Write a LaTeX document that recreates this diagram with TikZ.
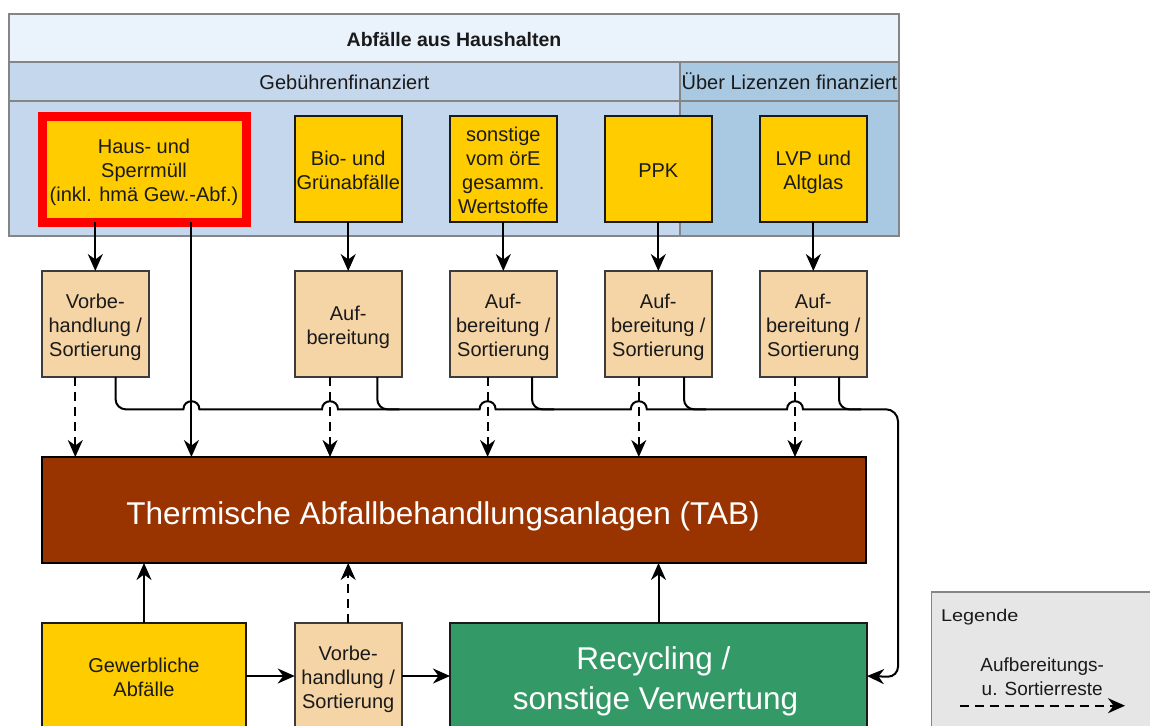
\documentclass[tikz,border=0pt]{standalone}
\usepackage{fontspec}
\setmainfont{Liberation Sans}
\usetikzlibrary{arrows.meta,calc}
\definecolor{titlebg}{HTML}{EAF2FC}
\definecolor{rowL}{HTML}{C4D7EC}
\definecolor{rowR}{HTML}{A9C8E2}
\definecolor{hdrline}{HTML}{858585}
\definecolor{yel}{HTML}{FFCC00}
\definecolor{tanbox}{HTML}{F5D4A6}
\definecolor{tabc}{HTML}{993300}
\definecolor{recc}{HTML}{339966}
\definecolor{legbg}{HTML}{E6E6E6}
\definecolor{boxline}{HTML}{1A1A1A}
\newcommand\lstrut{\rule[-4pt]{0pt}{24pt}}
\newcommand\bstrut{\rule[-6.1pt]{0pt}{37.8pt}}
% multi-line text block, lowered a little (as the reference sets it)
\newcommand\bt[2][3.3pt]{\raisebox{-#1}[\height][\depth]{\begin{tabular}{@{}c@{}}#2\end{tabular}}}
\begin{document}
\begin{tikzpicture}[x=1pt,y=-1pt,
  every node/.style={font=\fontsize{20}{24}\selectfont, inner sep=0pt, outer sep=0pt, text=boxline,
    execute at begin node=\lstrut, execute at end node=\lstrut},
  hdr/.style={draw=hdrline, line width=2pt},
  ybox/.style={draw=boxline, fill=yel, line width=1.6pt, minimum width=107pt, minimum height=106pt},
  tbox/.style={draw=boxline!85, fill=tanbox, line width=1.6pt, minimum width=107pt, minimum height=106pt},
  big/.style={font=\fontsize{31.5}{40}\selectfont, text=white,
    execute at begin node=\bstrut, execute at end node=\bstrut},
  wire/.style={line width=2pt, draw=black},
  conn/.style={wire, -{Stealth[length=17pt,width=15pt,inset=5.5pt]}},
  resid/.style={conn, dash pattern=on 9pt off 6pt},
  ]
\useasboundingbox (0,0) rectangle (1150,725);
\clip (0,0) rectangle (1150,725);

% header
\node[hdr, fill=titlebg, minimum width=890pt, minimum height=48pt, font=\fontsize{19.5}{24}\selectfont\bfseries] (title) at (454,38) {Abfälle aus Haushalten};
\node[hdr, fill=rowL, minimum width=671pt, minimum height=39pt] (geb) at (344.5,81.5) {Gebührenfinanziert};
\node[hdr, fill=rowR, minimum width=219pt, minimum height=39pt] (liz) at (789.5,81.5) {Über Lizenzen finanziert};
\node[hdr, fill=rowL, minimum width=671pt, minimum height=135pt] (gebarea) at (344.5,168.5) {};
\node[hdr, fill=rowR, minimum width=219pt, minimum height=135pt] (lizarea) at (789.5,168.5) {};

% top boxes
\node[ybox, draw=red, line width=9pt, minimum width=204pt] (haus) at (144,169) {\bt{Haus- und\\Sperrmüll\\(inkl. hmä Gew.-Abf.)}};
\node[ybox] (bio) at (348.2,169) {\bt{Bio- und\\Grünabfälle}};
\node[ybox] (sonst) at (503.3,169) {\bt{sonstige\\vom örE\\gesamm.\\Wertstoffe}};
\node[ybox] (ppk) at (658.3,169) {PPK};
\node[ybox] (lvp) at (813.3,169) {\bt{LVP und\\Altglas}};

% processing boxes
\node[tbox] (v1) at (95.3,324) {\bt{Vorbe-\\handlung /\\Sortierung}};
\node[tbox] (a2) at (348.2,324) {\bt{Auf-\\bereitung}};
\node[tbox] (a3) at (503.3,324) {\bt{Auf-\\bereitung /\\Sortierung}};
\node[tbox] (a4) at (658.3,324) {\bt{Auf-\\bereitung /\\Sortierung}};
\node[tbox] (a5) at (813.3,324) {\bt{Auf-\\bereitung /\\Sortierung}};

% TAB
\node[draw=black, fill=tabc, line width=1.8pt, minimum width=824pt, minimum height=106pt, big] (tab) at (454,510) {\raisebox{-2pt}[\height][\depth]{Thermische Abfallbehandlungsanlagen (TAB)}\rule{22pt}{0pt}};

% bottom boxes
\node[ybox, minimum width=204pt] (gew) at (144,676) {\bt{Gewerbliche\\Abfälle}};
\node[tbox] (v6) at (348.2,676) {\bt{Vorbe-\\handlung /\\Sortierung}};
\node[draw=boxline, fill=recc, line width=1.6pt, minimum width=417pt, minimum height=106pt, big] (rec) at (658.5,676) {\bt[5pt]{Recycling /\rule{10pt}{0pt}\\sonstige Verwertung\rule{6pt}{0pt}}};

% legend
\node[draw=hdrline, fill=legbg, line width=1.6pt, minimum width=240pt, minimum height=160pt, anchor=north west] (legend) at (931.5,591.7) {};
\node[anchor=west, font=\fontsize{17}{20}\selectfont\addfontfeatures{FakeStretch=1.17}] (legt) at (941,613) {Legende};
\coordinate (ls) at (959.5,705.7);
\coordinate (le) at (1125,705.7);
\draw[resid] (ls) -- (le) node[midway, above=6pt, font=\fontsize{19}{24}\selectfont] (legl) {\bt{Aufbereitungs-\\u. Sortierreste}};

% top to processing
\draw[conn] (v1.north |- haus.south) -- (v1.north);
\draw[conn] ([xshift=47.4pt]haus.south) -- ([xshift=47.4pt]haus.south |- tab.north);
\draw[conn] (bio.south) -- (a2.north);
\draw[conn] (sonst.south) -- (a3.north);
\draw[conn] (ppk.south) -- (a4.north);
\draw[conn] (lvp.south) -- (a5.north);

% residues to TAB
\draw[resid] ([xshift=-20pt]v1.south) -- ([xshift=-20pt]v1.south |- tab.north);
\draw[resid] ([xshift=-18.2pt]a2.south) -- ([xshift=-18.2pt]a2.south |- tab.north);
\draw[resid] ([xshift=-15.7pt]a3.south) -- ([xshift=-15.7pt]a3.south |- tab.north);
\draw[resid] ([xshift=-19.5pt]a4.south) -- ([xshift=-19.5pt]a4.south |- tab.north);
\draw[resid] ([xshift=-18.3pt]a5.south) -- ([xshift=-18.3pt]a5.south |- tab.north);

% main line to recycling with hops
\draw[conn] ([xshift=20.3pt]v1.south) -- (115.6,399.3) .. controls (115.6,404.8) and (120.1,409.3) .. (125.6,409.3)
  -- (183.4,409.3) .. controls (183.4,398.6) and (199.4,398.6) .. (199.4,409.3)
  -- (322,409.3) .. controls (322,398.6) and (338,398.6) .. (338,409.3)
  -- (479.6,409.3) .. controls (479.6,398.6) and (495.6,398.6) .. (495.6,409.3)
  -- (630.8,409.3) .. controls (630.8,398.6) and (646.8,398.6) .. (646.8,409.3)
  -- (787,409.3) .. controls (787,398.6) and (803,398.6) .. (803,409.3)
  -- (886,409.3) .. controls (892.6,409.3) and (898,414.7) .. (898,421.3)
  -- (898,666.7) .. controls (898,672.2) and (893.5,676.7) .. (888,676.7)
  -- (rec.east);
\foreach \n/\dx in {a2/29.1, a3/28.7, a4/25.7, a5/25.7}{
  \draw[wire] ([xshift=\dx pt]\n.south) -- ++(0,22.3) .. controls +(0,5.5) and +(-5.5,0) .. ++(10,10) -- ++(12,0);
}

% bottom connectors
\draw[conn] (gew.north) -- (gew.north |- tab.south);
\draw[resid] (v6.north) -- (v6.north |- tab.south);
\draw[conn] (rec.north) -- (rec.north |- tab.south);
\draw[conn] (gew.east) -- (v6.west);
\draw[conn] (v6.east) -- (rec.west);
\end{tikzpicture}
\end{document}
